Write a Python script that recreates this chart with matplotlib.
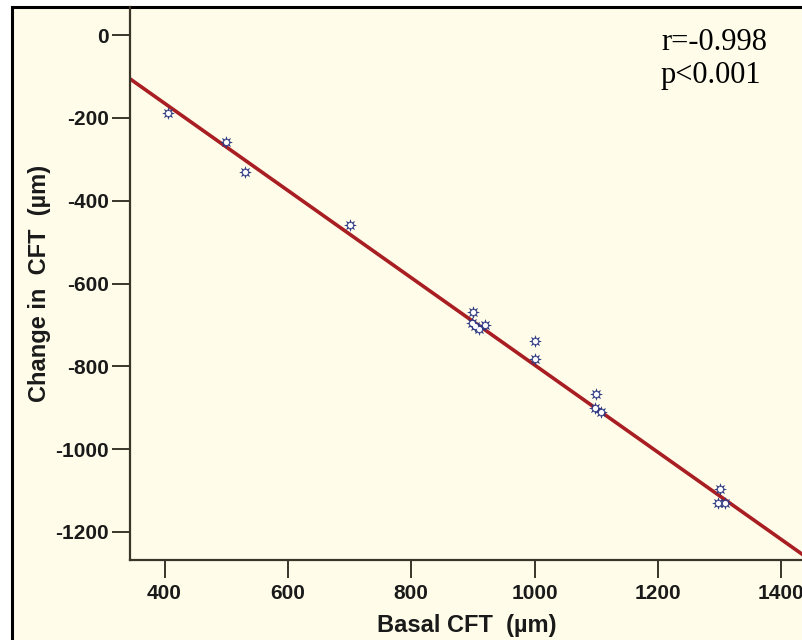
import numpy as np
import matplotlib
matplotlib.use('Agg')
import matplotlib.pyplot as plt
from matplotlib.patches import Rectangle

plt.rcParams['axes.unicode_minus'] = False

# data
basal_cft = [405, 500, 530, 700, 900, 898, 903, 909, 920, 1000, 1000,
             1100, 1098, 1108, 1300, 1298, 1308]
change_cft = [-189, -259, -330, -459, -670, -696, -703, -711, -700, -739, -783,
              -868, -901, -910, -1097, -1131, -1131]

# fit line as drawn in the chart
fit_intercept = 257.0
fit_slope = -1.054

x_ticks = [400, 600, 800, 1000, 1200, 1400]
y_ticks = [0, -200, -400, -600, -800, -1000, -1200]

bg = '#fffde9'
W, H = 803, 640

fig = plt.figure(figsize=(W / 100, H / 100), dpi=100)
fig.patch.set_facecolor('white')

# framed cream panel (left/top border visible, rest cut by the crop)
frame = Rectangle((12 / W, -0.1), 1.2, 1 - 7 / H + 0.1, transform=fig.transFigure,
                  facecolor=bg, edgecolor='black', linewidth=2.2, zorder=-10)
fig.add_artist(frame)

ax = fig.add_axes([130 / W, 1 - 560 / H, 1 - 130 / W, (560 - 7) / H])
ax.patch.set_alpha(0)
ax.set_xlim(344, 1435)
ax.set_ylim(-1268, 68)

for s in ['top', 'right']:
    ax.spines[s].set_visible(False)
for s in ['left', 'bottom']:
    ax.spines[s].set_color('#3a3528')
    ax.spines[s].set_linewidth(1.6)

ax.set_xticks(x_ticks)
ax.set_yticks(y_ticks)
ax.tick_params(axis='both', length=13, width=1.4, color='#3a3528')
ax.tick_params(axis='y', pad=2)
ax.tick_params(axis='x', pad=4)
for lab in ax.get_xticklabels() + ax.get_yticklabels():
    lab.set_fontfamily('Liberation Sans')
    lab.set_fontweight('bold')
    lab.set_fontsize(15)
    lab.set_color('#1a1a1a')

xs = np.array(ax.get_xlim())
ax.plot(xs, fit_intercept + fit_slope * xs, color='#a81e22', linewidth=2.6, zorder=2,
        solid_capstyle='butt')

ax.scatter(basal_cft, change_cft, s=85, marker=(8, 1, 0), color='#2f3a85', zorder=3,
           linewidths=0)
ax.scatter(basal_cft, change_cft, s=14, marker='o', color='white', zorder=4, linewidths=0)

ax.set_xlabel('Basal CFT  (\u00b5m)', fontfamily='Liberation Sans', fontweight='bold',
              fontsize=17, color='#1a1a1a', labelpad=8)
ax.set_ylabel('Change in  CFT  (\u00b5m)', fontfamily='Liberation Sans', fontweight='bold',
              fontsize=17, color='#1a1a1a', labelpad=3)

fig.text(661 / W, 1 - 42 / H, 'r=-0.998', fontfamily='Liberation Serif', fontsize=22,
         va='center', ha='left')
fig.text(661 / W, 1 - 76 / H, 'p<0.001', fontfamily='Liberation Serif', fontsize=22,
         va='center', ha='left')

fig.savefig('out.png', dpi=100, facecolor=fig.get_facecolor())
